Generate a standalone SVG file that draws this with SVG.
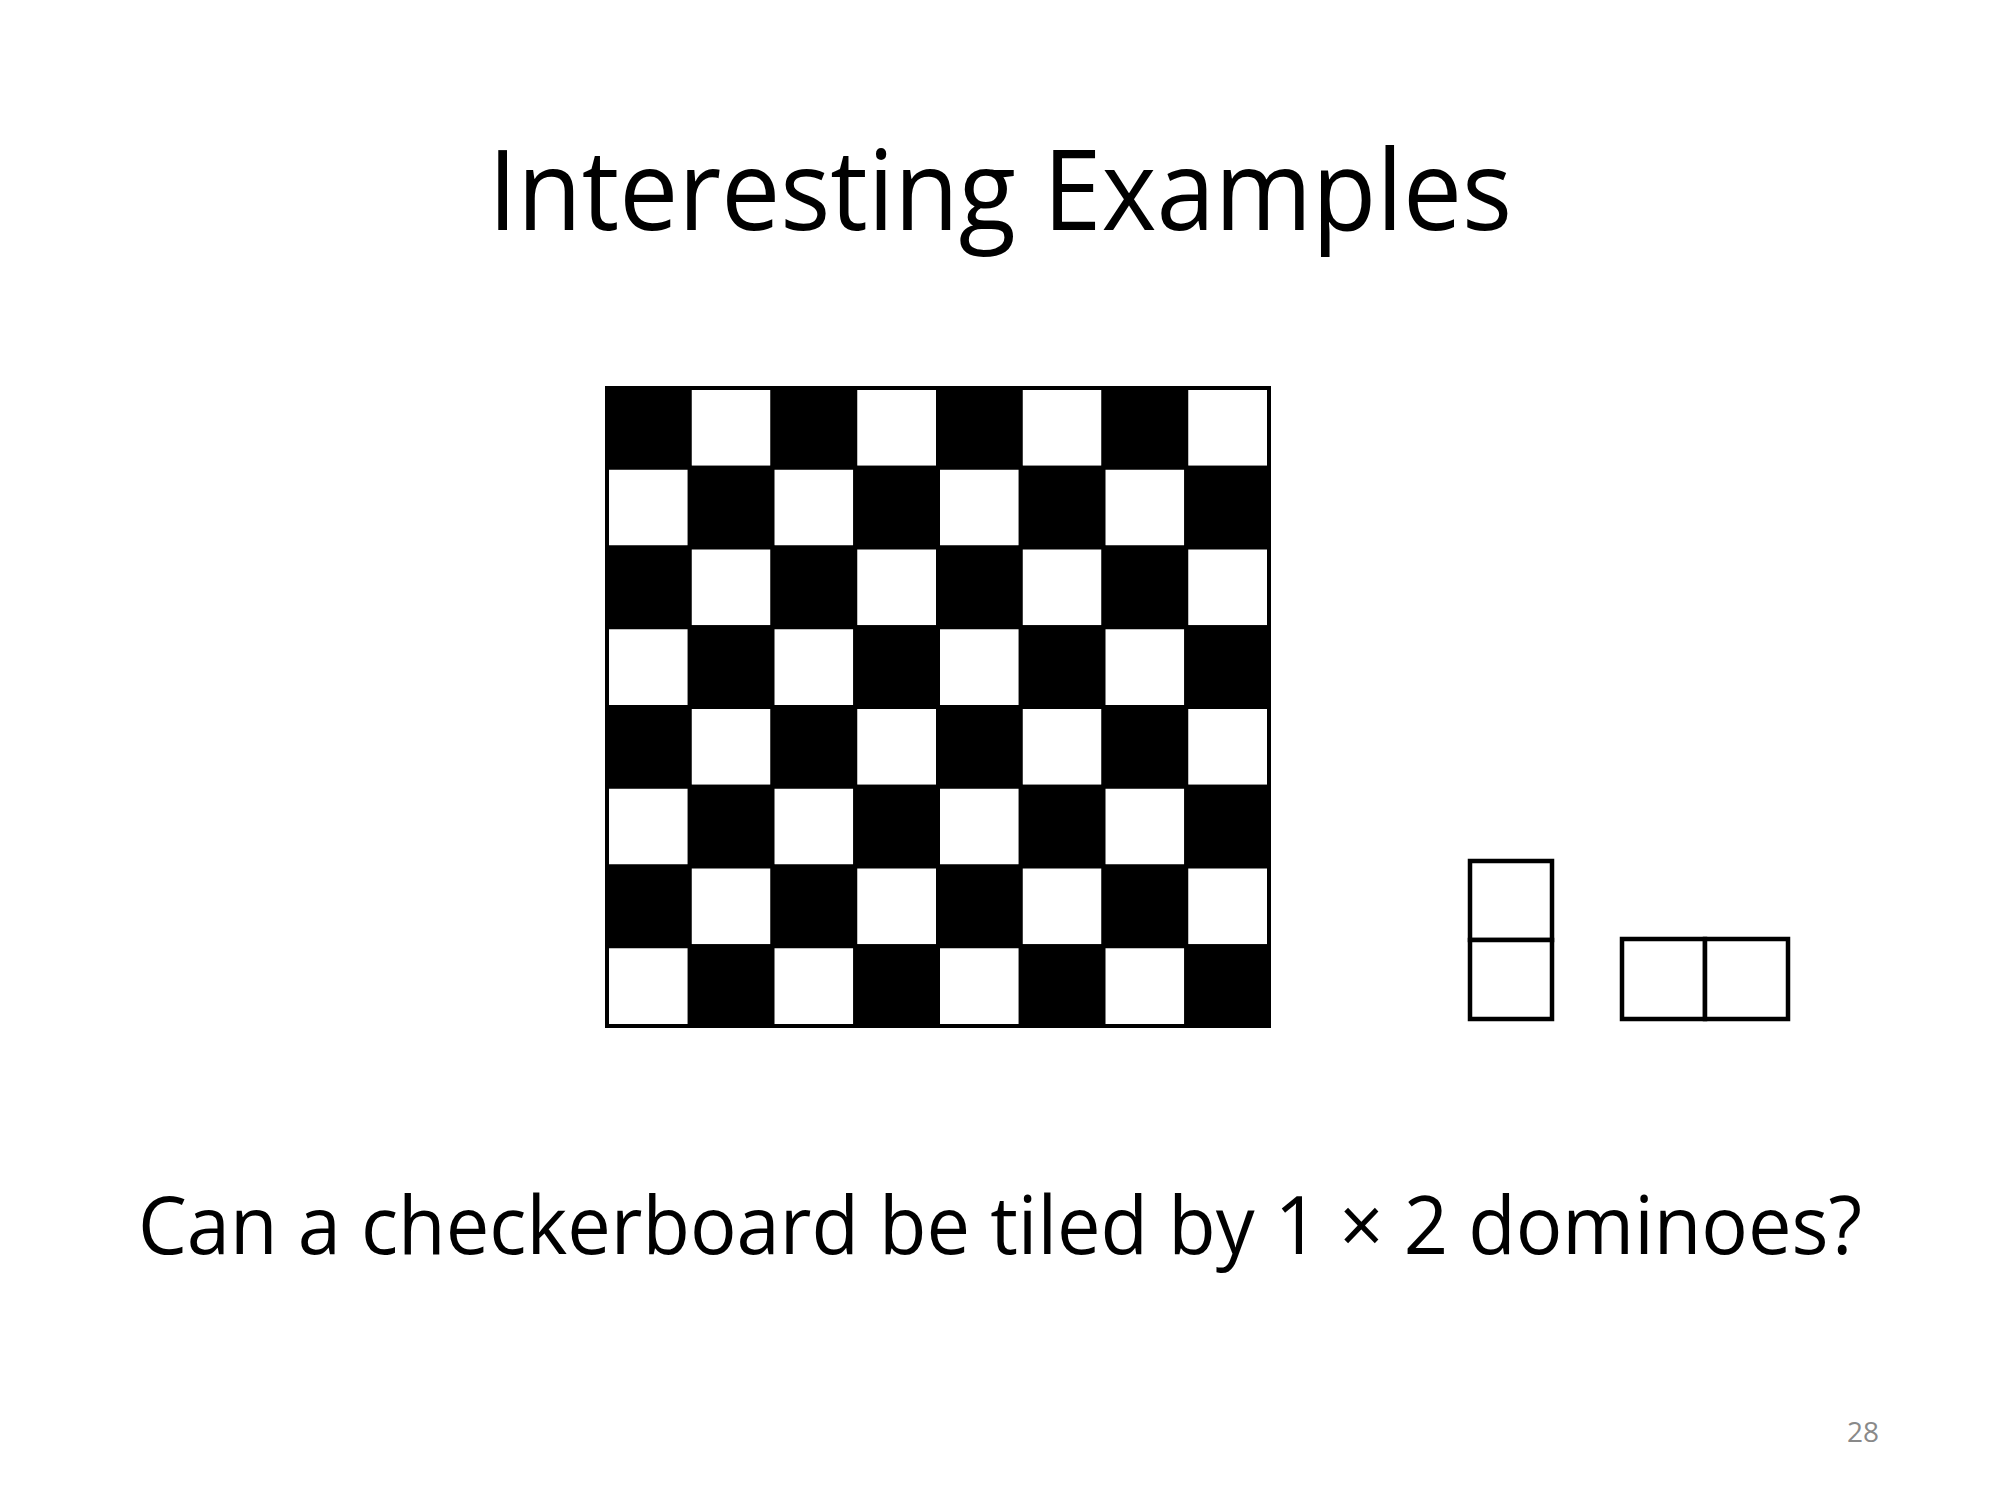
<svg xmlns="http://www.w3.org/2000/svg" width="2000" height="1500" viewBox="0 0 2000 1500">
<style>
.b{fill:#000;stroke:#000;stroke-width:4}
.w{fill:#fff;stroke:#000;stroke-width:4}
.d{fill:#fff;stroke:#000;stroke-width:4.5}
.t{font-family:"Open Sans","Liberation Sans",sans-serif;fill:#000}
</style>
<rect width="2000" height="1500" fill="#fff"/>
<text class="t" x="488" y="230" font-size="112" textLength="1024" lengthAdjust="spacingAndGlyphs">Interesting Examples</text>
<g id="board">
<g id="row0">
<rect class="b" x="607" y="388" width="82.75" height="79.75"/><rect class="w" x="689.75" y="388" width="82.75" height="79.75"/><rect class="b" x="772.5" y="388" width="82.75" height="79.75"/><rect class="w" x="855.25" y="388" width="82.75" height="79.75"/><rect class="b" x="938" y="388" width="82.75" height="79.75"/><rect class="w" x="1020.75" y="388" width="82.75" height="79.75"/><rect class="b" x="1103.5" y="388" width="82.75" height="79.75"/><rect class="w" x="1186.25" y="388" width="82.75" height="79.75"/>
</g>
<g id="row1">
<rect class="w" x="607" y="467.75" width="82.75" height="79.75"/><rect class="b" x="689.75" y="467.75" width="82.75" height="79.75"/><rect class="w" x="772.5" y="467.75" width="82.75" height="79.75"/><rect class="b" x="855.25" y="467.75" width="82.75" height="79.75"/><rect class="w" x="938" y="467.75" width="82.75" height="79.75"/><rect class="b" x="1020.75" y="467.75" width="82.75" height="79.75"/><rect class="w" x="1103.5" y="467.75" width="82.75" height="79.75"/><rect class="b" x="1186.25" y="467.75" width="82.75" height="79.75"/>
</g>
<g id="row2">
<rect class="b" x="607" y="547.5" width="82.75" height="79.75"/><rect class="w" x="689.75" y="547.5" width="82.75" height="79.75"/><rect class="b" x="772.5" y="547.5" width="82.75" height="79.75"/><rect class="w" x="855.25" y="547.5" width="82.75" height="79.75"/><rect class="b" x="938" y="547.5" width="82.75" height="79.75"/><rect class="w" x="1020.75" y="547.5" width="82.75" height="79.75"/><rect class="b" x="1103.5" y="547.5" width="82.75" height="79.75"/><rect class="w" x="1186.25" y="547.5" width="82.75" height="79.75"/>
</g>
<g id="row3">
<rect class="w" x="607" y="627.25" width="82.75" height="79.75"/><rect class="b" x="689.75" y="627.25" width="82.75" height="79.75"/><rect class="w" x="772.5" y="627.25" width="82.75" height="79.75"/><rect class="b" x="855.25" y="627.25" width="82.75" height="79.75"/><rect class="w" x="938" y="627.25" width="82.75" height="79.75"/><rect class="b" x="1020.75" y="627.25" width="82.75" height="79.75"/><rect class="w" x="1103.5" y="627.25" width="82.75" height="79.75"/><rect class="b" x="1186.25" y="627.25" width="82.75" height="79.75"/>
</g>
<g id="row4">
<rect class="b" x="607" y="707" width="82.75" height="79.75"/><rect class="w" x="689.75" y="707" width="82.75" height="79.75"/><rect class="b" x="772.5" y="707" width="82.75" height="79.75"/><rect class="w" x="855.25" y="707" width="82.75" height="79.75"/><rect class="b" x="938" y="707" width="82.75" height="79.75"/><rect class="w" x="1020.75" y="707" width="82.75" height="79.75"/><rect class="b" x="1103.5" y="707" width="82.75" height="79.75"/><rect class="w" x="1186.25" y="707" width="82.75" height="79.75"/>
</g>
<g id="row5">
<rect class="w" x="607" y="786.75" width="82.75" height="79.75"/><rect class="b" x="689.75" y="786.75" width="82.75" height="79.75"/><rect class="w" x="772.5" y="786.75" width="82.75" height="79.75"/><rect class="b" x="855.25" y="786.75" width="82.75" height="79.75"/><rect class="w" x="938" y="786.75" width="82.75" height="79.75"/><rect class="b" x="1020.75" y="786.75" width="82.75" height="79.75"/><rect class="w" x="1103.5" y="786.75" width="82.75" height="79.75"/><rect class="b" x="1186.25" y="786.75" width="82.75" height="79.75"/>
</g>
<g id="row6">
<rect class="b" x="607" y="866.5" width="82.75" height="79.75"/><rect class="w" x="689.75" y="866.5" width="82.75" height="79.75"/><rect class="b" x="772.5" y="866.5" width="82.75" height="79.75"/><rect class="w" x="855.25" y="866.5" width="82.75" height="79.75"/><rect class="b" x="938" y="866.5" width="82.75" height="79.75"/><rect class="w" x="1020.75" y="866.5" width="82.75" height="79.75"/><rect class="b" x="1103.5" y="866.5" width="82.75" height="79.75"/><rect class="w" x="1186.25" y="866.5" width="82.75" height="79.75"/>
</g>
<g id="row7">
<rect class="w" x="607" y="946.25" width="82.75" height="79.75"/><rect class="b" x="689.75" y="946.25" width="82.75" height="79.75"/><rect class="w" x="772.5" y="946.25" width="82.75" height="79.75"/><rect class="b" x="855.25" y="946.25" width="82.75" height="79.75"/><rect class="w" x="938" y="946.25" width="82.75" height="79.75"/><rect class="b" x="1020.75" y="946.25" width="82.75" height="79.75"/><rect class="w" x="1103.5" y="946.25" width="82.75" height="79.75"/><rect class="b" x="1186.25" y="946.25" width="82.75" height="79.75"/>
</g>
</g>
<g id="domino-vertical">
<rect class="d" x="1470" y="861" width="82" height="79"/>
<rect class="d" x="1470" y="940" width="82" height="79"/>
</g>
<g id="domino-horizontal">
<rect class="d" x="1622" y="939" width="83" height="80"/>
<rect class="d" x="1705" y="939" width="83" height="80"/>
</g>
<g id="connectors"/>
<text class="t" x="138" y="1254" font-size="80" textLength="1724" lengthAdjust="spacingAndGlyphs">Can a checkerboard be tiled by 1 × 2 dominoes?</text>
<text x="1847" y="1442" font-family="Open Sans, Liberation Sans, sans-serif" font-size="28" fill="#898989">28</text>
</svg>
